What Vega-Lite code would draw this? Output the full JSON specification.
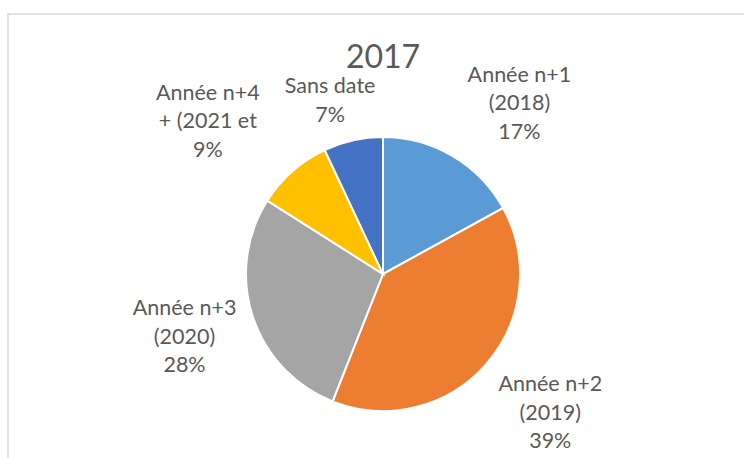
{
  "$schema": "https://vega.github.io/schema/vega-lite/v6.json",
  "width": 750,
  "height": 520,
  "autosize": "none",
  "padding": {"left": 8, "top": 14, "right": -14, "bottom": -76},
  "background": "white",
  "config": {"view": {"stroke": "#D9D9D9", "strokeWidth": 1.5}},
  "title": {
    "text": "2017",
    "font": "Lato",
    "fontSize": 32,
    "fontWeight": "normal",
    "color": "#595959",
    "anchor": "middle",
    "frame": "group",
    "baseline": "alphabetic",
    "offset": -86
  },
  "data": {
    "values": [
      {"cat": "Année n+1 (2018)", "order": 1, "value": 17, "label": "Année n+1\n(2018)\n17%"},
      {"cat": "Année n+2 (2019)", "order": 2, "value": 39, "label": "Année n+2\n(2019)\n39%"},
      {"cat": "Année n+3 (2020)", "order": 3, "value": 28, "label": "Année n+3\n(2020)\n28%"},
      {"cat": "Année n+4 et + (2021 et +)", "order": 4, "value": 9, "label": "Année n+4\n+ (2021 et\n9%"},
      {"cat": "Sans date", "order": 5, "value": 7, "label": "Sans date\n7%"}
    ]
  },
  "layer": [
    {
      "mark": {"type": "point", "opacity": 0},
      "encoding": {
        "x": {"field": "value", "type": "quantitative", "axis": null},
        "y": {"field": "value", "type": "quantitative", "axis": null}
      }
    },
    {
      "encoding": {
        "theta": {"field": "value", "type": "quantitative", "stack": true},
        "order": {"field": "order", "type": "quantitative"}
      },
      "layer": [
        {
          "mark": {"type": "arc", "outerRadius": 137, "stroke": "white", "strokeWidth": 2},
          "encoding": {
            "color": {
              "field": "cat",
              "type": "nominal",
              "scale": {
                "domain": ["Année n+1 (2018)", "Année n+2 (2019)", "Année n+3 (2020)", "Année n+4 et + (2021 et +)", "Sans date"],
                "range": ["#5B9BD5", "#ED7D31", "#A5A5A5", "#FFC000", "#4472C4"]
              },
              "legend": null
            }
          }
        },
        {
          "mark": {"type": "text", "radius": 215, "dx": 6, "dy": -31, "font": "Lato", "fontSize": 21.5, "color": "#595959", "lineBreak": "\n", "lineHeight": 28.5, "align": "center", "baseline": "middle"},
          "encoding": {
            "text": {"condition": {"test": "datum.order == 2 || datum.order == 3", "field": "label"}, "value": ""}
          }
        },
        {
          "mark": {"type": "text", "radius": 215, "dx": 27, "dy": -13, "font": "Lato", "fontSize": 21.5, "color": "#595959", "lineBreak": "\n", "lineHeight": 28.5, "align": "center", "baseline": "middle"},
          "encoding": {
            "text": {"condition": {"test": "datum.order == 1", "field": "label"}, "value": ""}
          }
        },
        {
          "mark": {"type": "text", "radius": 215, "dx": -33, "dy": -19, "font": "Lato", "fontSize": 21.5, "color": "#595959", "lineBreak": "\n", "lineHeight": 28.5, "align": "center", "baseline": "middle"},
          "encoding": {
            "text": {"condition": {"test": "datum.order == 4", "field": "label"}, "value": ""}
          }
        },
        {
          "mark": {"type": "text", "radius": 215, "dx": -6, "dy": 23, "font": "Lato", "fontSize": 21.5, "color": "#595959", "lineBreak": "\n", "lineHeight": 28.5, "align": "center", "baseline": "middle"},
          "encoding": {
            "text": {"condition": {"test": "datum.order == 5", "field": "label"}, "value": ""}
          }
        }
      ]
    }
  ]
}
